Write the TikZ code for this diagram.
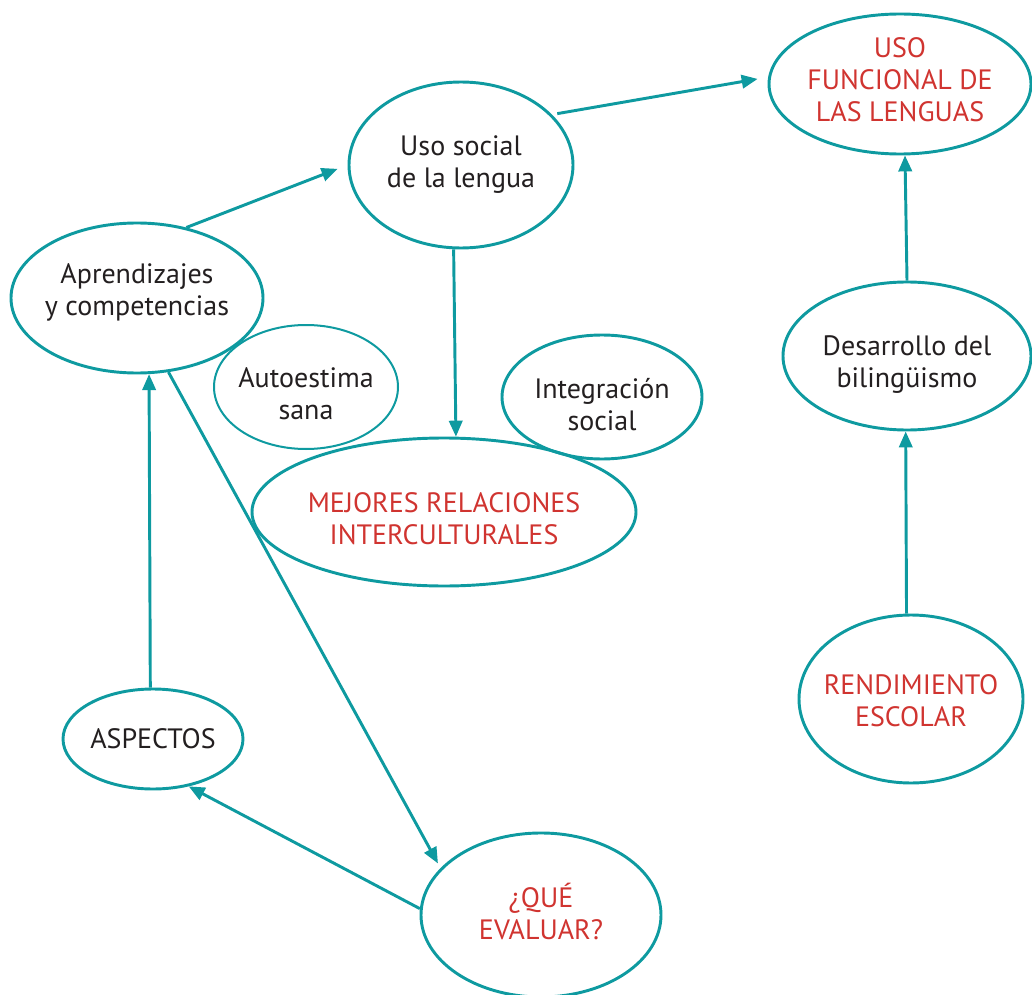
\documentclass[tikz,border=0pt]{standalone}
\usepackage{fontspec}
\setmainfont{PT Sans}
\usetikzlibrary{shapes.geometric,arrows.meta}
\definecolor{teal}{RGB}{14,154,160}
\definecolor{redt}{RGB}{208,52,48}
\definecolor{ink}{RGB}{35,31,32}
\tikzset{
  bub/.style={ellipse, draw=teal, line width=2.2pt, inner sep=0pt},
  txt/.style={align=center, text=ink, inner sep=0pt, font=\fontsize{21}{24}\selectfont},
  redtxt/.style={txt, text=redt},
  con/.style={draw=teal, line width=2.2pt, -{Triangle[length=12pt,width=10pt]}},
}
\begin{document}
\begin{tikzpicture}[x=0.75pt,y=-0.75pt]
\useasboundingbox (0,0) rectangle (1032,995);
\node[bub, minimum width=168pt, minimum height=124.5pt,
  label={[txt]center:{Uso social\\de la lengua}}] (soc) at (461,165) {};
\node[bub, minimum width=196.5pt, minimum height=105pt,
  label={[redtxt, yshift=3pt]center:{USO\\FUNCIONAL DE\\LAS LENGUAS}}] (fun) at (900,84) {};
\node[bub, minimum width=189pt, minimum height=112.5pt,
  label={[txt, yshift=4.5pt]center:{Aprendizajes\\y competencias}}] (apr) at (137,298) {};
\node[bub, line width=1.5pt, minimum width=138pt, minimum height=93pt,
  label={[txt, yshift=-5pt]center:{Autoestima\\sana}}] (aut) at (306,387) {};
\node[bub, minimum width=150pt, minimum height=93pt,
  label={[txt, yshift=-6pt]center:{Integración\\social}}] (int) at (602,397) {};
\node[bub, minimum width=288pt, minimum height=111pt,
  label={[redtxt, yshift=-5pt]center:{MEJORES RELACIONES\\INTERCULTURALES}}] (mej) at (444,512) {};
\node[bub, minimum width=186pt, minimum height=111pt,
  label={[txt, yshift=-6.75pt]center:{Desarrollo del\\bilingüismo}}] (des) at (907,356) {};
\node[bub, minimum width=168pt, minimum height=126pt,
  label={[redtxt, yshift=-1.5pt]center:{RENDIMIENTO\\ESCOLAR}}] (ren) at (911,699) {};
\node[bub, minimum width=135pt, minimum height=75pt,
  label={[txt]center:{ASPECTOS}}] (asp) at (153,739) {};
\node[bub, minimum width=180pt, minimum height=123pt,
  label={[redtxt, yshift=2.6pt]center:{¿QUÉ\\EVALUAR?}}] (que) at (541,915) {};

\draw[con, shorten >=8pt] (apr.55.4) -- (soc.180);
\draw[con, shorten >=8pt, shorten <=4pt] (soc.29.2) -- (fun.177.6);
\draw[con] (soc.265.9) -- (mej.81.5);
\draw[con] (des.90.8) -- (fun.274.9);
\draw[con] (ren.93.4) -- (des.269.2);
\draw[con] (asp.93.4) -- (apr.279.6);
\draw[con, shorten >=4pt] (apr.293.2) -- (que.155.6);
\draw[con] (que.177.6) -- (asp.307.6);
\end{tikzpicture}
\end{document}
